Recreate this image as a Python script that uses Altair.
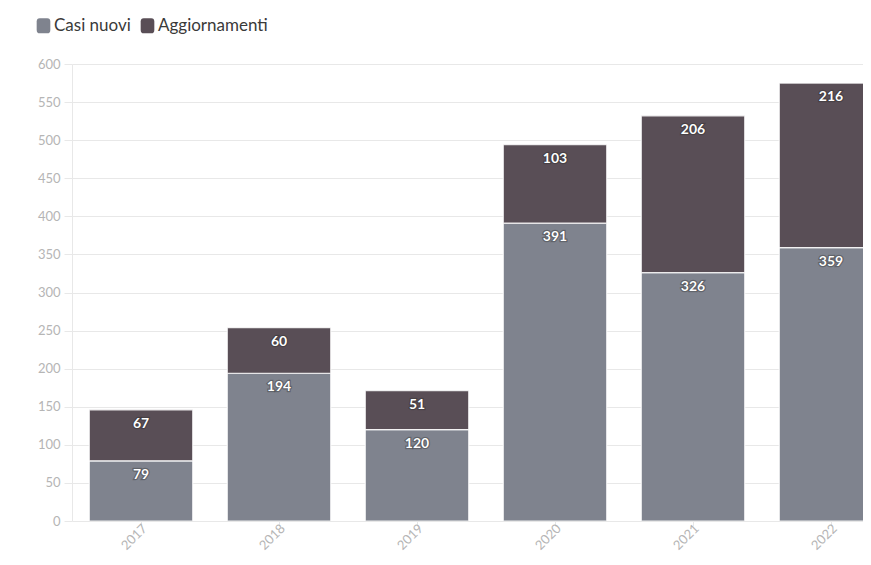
import altair as alt
import pandas as pd

years = ["2017", "2018", "2019", "2020", "2021", "2022"]
casi_nuovi = [79, 194, 120, 391, 326, 359]
aggiornamenti = [67, 60, 51, 103, 206, 216]
series = ["Casi nuovi", "Aggiornamenti"]
colors = ["#7f838e", "#594e56"]
y_ticks = list(range(0, 601, 50))

rows = []
for i, yr in enumerate(years):
    rows.append({"anno": yr, "serie": series[0], "valore": casi_nuovi[i], "ordine": 0})
    rows.append({"anno": yr, "serie": series[1], "valore": aggiornamenti[i], "ordine": 1})
df = pd.DataFrame(rows)

FONT = "Lato"
GRID = "#e8e8e8"
LAB = "#b5b5b5"

legend_shape = "M-0.9,-0.55 Q-0.9,-1 -0.5,-1 L0.5,-1 Q0.9,-1 0.9,-0.55 L0.9,0.55 Q0.9,1 0.5,1 L-0.5,1 Q-0.9,1 -0.9,0.55 Z"

x = alt.X(
    "anno:N",
    sort=years,
    scale=alt.Scale(paddingInner=0.25, paddingOuter=0.125, range=[0, 828]),
    axis=alt.Axis(
        title=None, labelAngle=-45, labelAlign="right", labelBaseline="middle",
        labelColor=LAB, labelFontSize=13, labelFont=FONT, labelOffset=4,
        tickColor=GRID, tickSize=5, domain=False, labelPadding=0, grid=False,
    ),
)
y = alt.Y(
    "valore:Q",
    stack="zero",
    scale=alt.Scale(domain=[0, 600], nice=False),
    axis=alt.Axis(
        title=None, values=y_ticks, labelColor=LAB, labelFontSize=13, labelFont=FONT,
        tickColor=GRID, tickSize=8, domainColor=GRID, gridColor=GRID, labelPadding=4,
    ),
)
color = alt.Color(
    "serie:N",
    scale=alt.Scale(domain=series, range=colors),
    legend=alt.Legend(
        title=None, orient="none", legendX=-37, legendY=-47, direction="horizontal",
        symbolType=legend_shape, symbolSize=230, symbolStrokeWidth=0, symbolOpacity=1,
        labelFontSize=17, labelFont=FONT, labelColor="#3a3a3a", columnPadding=8, labelOffset=2,
    ),
)
order = alt.Order("ordine:Q", sort="ascending")

bars = alt.Chart(df).mark_bar(
    stroke="white", strokeWidth=1.2, strokeOpacity=0.85, clip=True, opacity=1
).encode(x=x, y=y, color=color, order=order)
shadow = alt.Chart(df).mark_text(
    baseline="top", dy=7, font=FONT, fontSize=14, fontWeight="bold",
    stroke="#2a2a2a", strokeWidth=2.5, strokeOpacity=0.35, fill="#2a2a2a", clip=True,
).encode(x=x, y=y, text="valore:Q", order=order, detail="serie:N")
labels = alt.Chart(df).mark_text(
    baseline="top", dy=7, font=FONT, fontSize=14, fontWeight="bold", color="white", clip=True,
).encode(x=x, y=y, text="valore:Q", order=order, detail="serie:N")

chart = (
    alt.layer(bars, shadow, labels)
    .properties(
        width=791, height=457,
        autosize=alt.AutoSizeParams(type="none"),
        padding={"left": 64, "top": 56, "right": 0, "bottom": 31},
        background="white",
    )
    .configure_view(stroke=None)
)
chart.save("out.html", embed_options={"renderer": "svg", "actions": False})
